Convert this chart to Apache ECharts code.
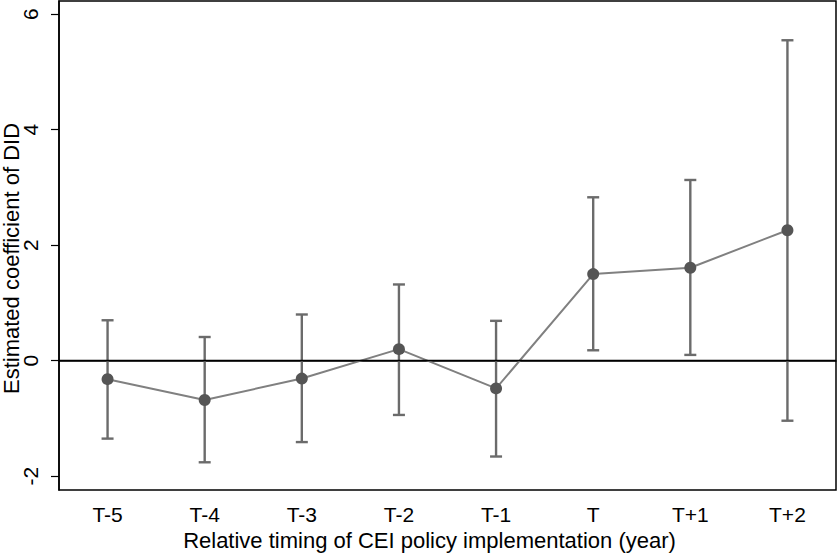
<!DOCTYPE html>
<html>
<head>
<meta charset="utf-8">
<script src="https://cdn.jsdelivr.net/npm/echarts@6/dist/echarts.min.js"></script>
<style>
  html, body { margin: 0; padding: 0; background: #fff; }
  #chart { width: 837px; height: 553px; }
</style>
</head>
<body>
<div id="chart"></div>
<script>
var categories = ['T-5', 'T-4', 'T-3', 'T-2', 'T-1', 'T', 'T+1', 'T+2'];
var coef = [-0.32, -0.68, -0.31, 0.20, -0.48, 1.50, 1.61, 2.26];
var upper = [0.70, 0.41, 0.80, 1.32, 0.69, 2.83, 3.13, 5.55];
var lower = [-1.35, -1.76, -1.41, -0.94, -1.66, 0.18, 0.10, -1.04];
var yTicks = [-2, 0, 2, 4, 6];

var font = '"Liberation Sans", Arial, sans-serif';

var ciData = categories.map(function(c, i) {
  return [i, lower[i], upper[i]];
});

var chart = echarts.init(document.getElementById('chart'), null, { renderer: 'svg' });
chart.setOption({
  animation: false,
  textStyle: { fontFamily: font },
  grid: {
    left: 59, right: 1, top: 1, bottom: 63,
    outerBoundsMode: 'none',
    containLabel: false,
    show: true,
    borderColor: '#000',
    borderWidth: 1.5,
    backgroundColor: '#fff'
  },
  xAxis: {
    type: 'category',
    data: categories,
    boundaryGap: true,
    name: 'Relative timing of CEI policy implementation (year)',
    nameLocation: 'middle',
    nameGap: 39,
    nameMoveOverlap: false,
    nameTextStyle: { color: '#000', fontSize: 22, fontFamily: font, padding: [0, 36, 0, 0] },
    axisLine: { lineStyle: { color: '#000', width: 1.5 } },
    axisTick: { alignWithLabel: true, length: 8, lineStyle: { color: '#000', width: 1.2 } },
    axisLabel: { color: '#000', fontSize: 21, margin: 14, fontFamily: font },
    splitLine: { show: false }
  },
  yAxis: {
    type: 'value',
    min: -2.24,
    max: 6.23,
    name: 'Estimated coefficient of DID',
    nameLocation: 'middle',
    nameGap: 37,
    nameRotate: 90,
    nameMoveOverlap: false,
    nameTextStyle: { color: '#000', fontSize: 22, fontFamily: font, padding: [0, 26, 0, 0] },
    axisLine: { show: true, lineStyle: { color: '#000', width: 1.5 } },
    axisTick: { show: true, length: 8, customValues: yTicks, lineStyle: { color: '#000', width: 1.2 } },
    axisLabel: { color: '#000', fontSize: 21, rotate: 90, margin: 18, customValues: yTicks, fontFamily: font },
    splitLine: { show: false }
  },
  series: [
    {
      type: 'custom',
      z: 2,
      data: ciData,
      renderItem: function(params, api) {
        var x = api.value(0);
        var lo = api.coord([x, api.value(1)]);
        var hi = api.coord([x, api.value(2)]);
        var half = 6;
        var style = { stroke: '#6b6b6b', lineWidth: 2.4 };
        return {
          type: 'group',
          children: [
            { type: 'line', shape: { x1: lo[0], y1: lo[1], x2: hi[0], y2: hi[1] }, style: style },
            { type: 'line', shape: { x1: hi[0] - half, y1: hi[1], x2: hi[0] + half, y2: hi[1] }, style: style },
            { type: 'line', shape: { x1: lo[0] - half, y1: lo[1], x2: lo[0] + half, y2: lo[1] }, style: style }
          ]
        };
      }
    },
    {
      type: 'line',
      z: 3,
      data: coef,
      symbol: 'circle',
      symbolSize: 12,
      lineStyle: { color: '#808080', width: 2 },
      itemStyle: { color: '#555555' },
      markLine: {
        silent: true,
        symbol: 'none',
        label: { show: false },
        lineStyle: { color: '#000', type: 'solid', width: 1.3 },
        data: [{ yAxis: 0 }]
      }
    }
  ]
});
</script>
</body>
</html>
